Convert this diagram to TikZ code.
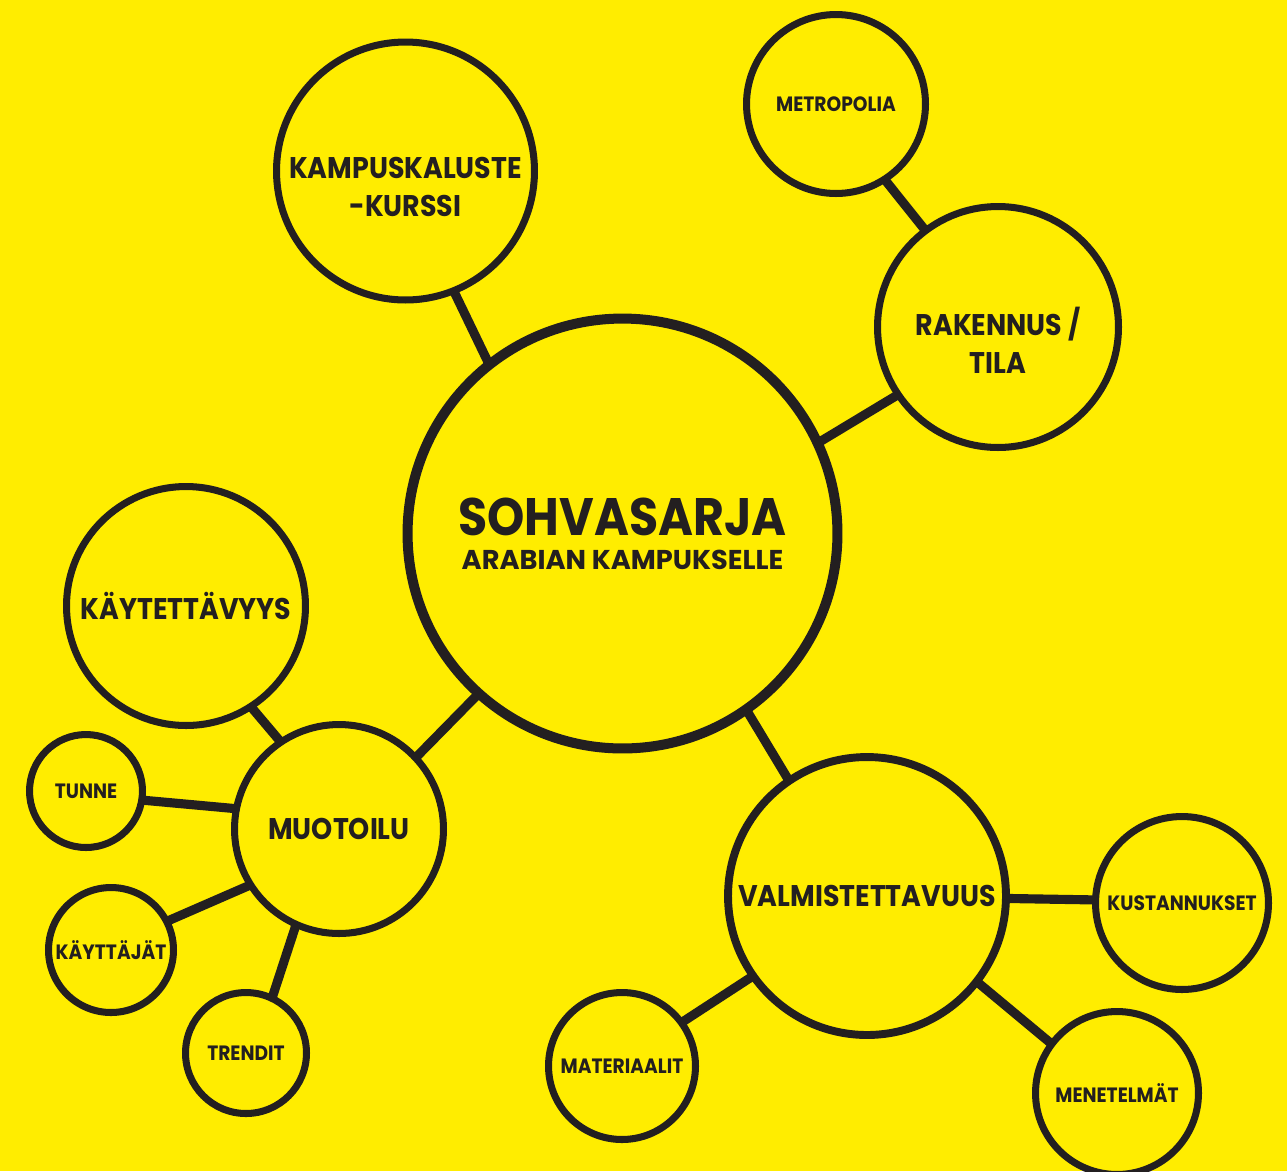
\documentclass[tikz,border=0pt]{standalone}
\usepackage{fontspec}
\setmainfont{Poppins}
\newfontfamily\labelfont{Poppins}[FakeStretch=0.9]
\usetikzlibrary{backgrounds}
\definecolor{bgyellow}{RGB}{255,237,0}
\definecolor{ink}{RGB}{35,31,32}
\tikzset{
  bubble/.style={circle, draw=ink, fill=bgyellow, line width=4pt, inner sep=0pt, minimum size=#1, align=center, text=ink},
  link/.style={draw=ink, line width=5.2pt, shorten <=-6pt, shorten >=-6pt},
  bigtxt/.style={font=\labelfont\bfseries\fontsize{17}{21.5}\selectfont, text=ink, align=center},
  smalltxt/.style={font=\labelfont\bfseries\fontsize{11.8}{14}\selectfont},
}

\begin{document}
\begin{tikzpicture}[x=0.02cm, y=-0.02cm]
		%%%%% START %%%%%
		\useasboundingbox (0, 0) rectangle (1287, 1171);
		
		% centre
		\node[bubble=8.6cm, line width=5.7pt, font=\bfseries\fontsize{15.5}{19.3}\selectfont] (hub) at (622.5, 533.5) {{\labelfont\fontsize{30}{34}\selectfont SOHVASARJA}\\ARABIAN KAMPUKSELLE};
		
		% top
		\node[bubble=5.16cm] (kampus) at (405.5, 171) {};
		\node[bigtxt] (kampustxt) at (405.5, 187) {KAMPUSKALUSTE\\-KURSSI};
		\node[bubble=3.58cm, smalltxt] (metro) at (836, 104) {METROPOLIA};
		\node[bubble=4.82cm] (rak) at (998, 327) {};
		\node[bigtxt] (raktxt) at (998, 340) {RAKENNUS /\\TILA};
		
		% left
		\node[bubble=4.78cm, bigtxt] (kayt) at (186, 606) {KÄYTETTÄVYYS};
		\node[bubble=4.18cm, bigtxt] (muot) at (339, 829) {MUOTOILU};
		\node[bubble=2.26cm, smalltxt] (tunne) at (86, 791) {TUNNE};
		\node[bubble=2.5cm, smalltxt] (kayttajat) at (111, 950) {KÄYTTÄJÄT};
		\node[bubble=2.42cm, smalltxt] (trendit) at (246, 1053) {TRENDIT};
		
		% right
		\node[bubble=5.56cm, line width=4.5pt, bigtxt] (valm) at (867, 896) {VALMISTETTAVUUS};
		\node[bubble=3.46cm, smalltxt] (kust) at (1182, 903) {KUSTANNUKSET};
		\node[bubble=2.94cm, smalltxt] (mater) at (622, 1066) {MATERIAALIT};
		\node[bubble=3.26cm, smalltxt] (menet) at (1117, 1093) {MENETELMÄT};
		
		\begin{pgfonlayer}{background}
		\fill[bgyellow] (0, 0) rectangle (1287, 1171);
		\draw[link] (kampus.-68) -- (hub.128);
		\draw[link] (hub.25) -- (rak.214);
		\draw[link] (metro.-57) -- (rak.127);
		\draw[link] (hub.228) -- (muot.43);
		\draw[link] (kayt.-57) -- (muot.124);
		\draw[link] (tunne.-9) -- (muot.169);
		\draw[link] (kayttajat.27) -- (muot.212);
		\draw[link] (trendit.65) -- (muot.-114);
		\draw[link] (hub.-55) -- (valm.124);
		\draw[link] (valm.-1) -- (kust.178);
		\draw[link] (valm.215) -- (mater.36);
		\draw[link] (valm.-38) -- (menet.143);
		\end{pgfonlayer}
		%%%%% END %%%%%
\end{tikzpicture}
\end{document}
